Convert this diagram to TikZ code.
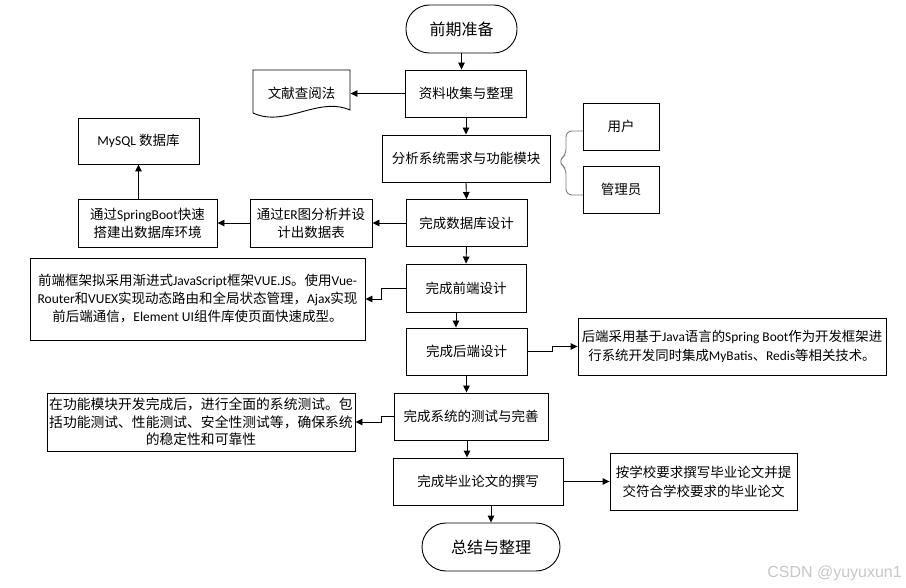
\documentclass[tikz,border=0pt]{standalone}
\usepackage{fontspec}
\setmainfont{Noto Sans CJK SC}
\newfontfamily\en{Carlito}
\newfontfamily\wm{Liberation Sans}
\usetikzlibrary{arrows.meta}

\begin{document}
\begin{tikzpicture}[x=1pt,y=-1pt,
    box/.style={draw,line width=0.9pt,inner sep=0pt,align=center,minimum height=47pt,font=\fontsize{13.5}{18}\selectfont},
    term/.style={box,rounded corners=23.5pt,font=\fontsize{16}{19}\selectfont},
    arr/.style={line width=0.9pt,-{Triangle[length=7pt,width=6.5pt]}},
    brc/.style={draw=black!50,line width=0.9pt,rounded corners=6pt}]
    \useasboundingbox (0,0) rectangle (906,588);
    % main flow
    \node[term,minimum width=111pt,minimum height=48pt] (qq) at (461.5,29) {前期准备};
    \node[box,minimum width=121pt] (zl) at (466,93.5) {资料收集与整理};
    \node[box,minimum width=168pt] (fx) at (466,158.5) {分析系统需求与功能模块};
    \node[box,minimum width=121pt] (sj) at (466.5,223) {完成数据库设计};
    \node[box,minimum width=120pt,minimum height=48pt] (qd) at (466,288) {完成前端设计};
    \node[box,minimum width=121pt] (hd) at (466.5,351.5) {完成后端设计};
    \node[box,minimum width=154pt] (cs) at (471,416.5) {完成系统的测试与完善};
    \node[box,minimum width=170pt] (lw) at (478,481.5) {完成毕业论文的撰写};
    \node[term,minimum width=138pt,minimum height=48pt,rounded corners=24pt] (zj) at (491,547) {总结与整理};
    % side boxes
    \draw[line width=0.9pt] (253,113) -- (253,70) -- (350,70) -- (350,110) .. controls (318,96) and (285,128) .. (253,113) -- cycle;
    \node[box,draw=none,minimum width=97pt] (wx) at (301.5,93) {文献查阅法};
    \node[box,minimum width=76pt] (yh) at (621,126.5) {用户};
    \node[box,minimum width=76pt] (gl) at (621,189.5) {管理员};
    \draw[brc] (583,131) -- (566,131) -- (566,155) -- (558,161.5) -- (566,168) -- (566,195) -- (583,195);
    \node[box,minimum width=121pt,minimum height=46pt] (my) at (138.5,141) {{\en MySQL} 数据库};
    \node[box,minimum width=139pt,minimum height=48pt] (sb) at (147.5,223) {通过{\en SpringBoot}快速\\搭建出数据库环境};
    \node[box,minimum width=122pt,minimum height=48pt] (er) at (311,223) {通过{\en ER}图分析并设\\计出数据表};
    \node[box,minimum width=335pt,minimum height=82pt] (qdt) at (197.5,299) {前端框架拟采用渐进式{\en JavaScript}框架{\en VUE.JS}。使用{\en Vue-}\\{\en Router}和{\en VUEX}实现动态路由和全局状态管理，{\en Ajax}实现\\前后端通信，{\en Element UI}组件库使页面快速成型。};
    \node[box,minimum width=308pt,minimum height=57pt,font=\fontsize{13.4}{19}\selectfont] (hdt) at (732,346.5) {后端采用基于{\en Java}语言的{\en Spring Boot}作为开发框架进\\行系统开发同时集成{\en MyBatis}、{\en Redis}等相关技术。};
    \node[box,minimum width=308pt,minimum height=58pt,font=\fontsize{13.8}{17.5}\selectfont] (cst) at (201,422) {在功能模块开发完成后，进行全面的系统测试。包\\括功能测试、性能测试、安全性测试等，确保系统\\的稳定性和可靠性};
    \node[box,minimum width=187pt,minimum height=57pt,font=\fontsize{13.5}{19}\selectfont] (lwt) at (703.5,481.5) {按学校要求撰写毕业论文并提\\交符合学校要求的毕业论文};
    % connectors
    \draw[arr] (qq.south) -- (qq.south |- zl.north);
    \draw[arr] (zl.south) -- (fx.north);
    \draw[arr] (fx.south) -- (sj.north);
    \draw[arr] (sj.south) -- (qd.north);
    \draw[arr] ([xshift=-10pt]qd.south) -- ([xshift=-10.5pt]hd.north);
    \draw[arr] (hd.south) -- (hd.south |- cs.north);
    \draw[arr] ([xshift=-4pt]cs.south) -- ([xshift=-4pt]cs.south |- lw.north);
    \draw[arr] (lw.south -| zj.north) -- (zj.north);
    \draw[arr] (zl.west) -- (zl.west -| wx.east);
    \draw[arr] (sj.west) -- (er.east);
    \draw[arr] (er.west) -- (sb.east);
    \draw[arr] (my.south |- sb.north) -- (my.south);
    \draw[arr] (qd.west) -- ++(-24,0) |- (qdt.east);
    \draw[arr] (hd.east) -- ++(25,0) |- (hdt.west);
    \draw[arr] (cs.west) -- ++(-12,0) |- (cst.east);
    \draw[arr] (lw.east) -- (lwt.west);
    \node[font=\wm\fontsize{16}{18}\selectfont,text=black!22,anchor=base east,inner sep=0pt] (wm) at (902,577) {CSDN @yuyuxun1};
\end{tikzpicture}
\end{document}
